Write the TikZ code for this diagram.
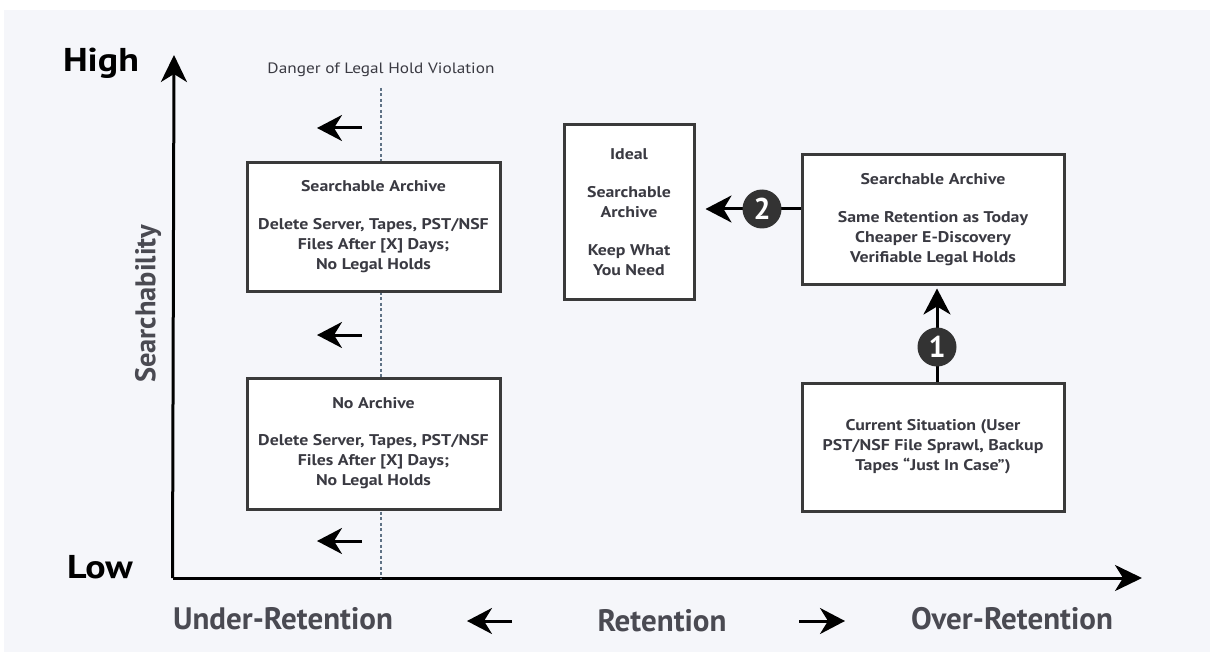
\documentclass[tikz,border=0pt]{standalone}
\usepackage{fontspec}
\setmainfont{PT Sans}
\newfontfamily\widefont[FakeStretch=1.15]{PT Sans}
\usetikzlibrary{arrows.meta}
\definecolor{bg}{HTML}{F5F6FA}
\definecolor{txt}{HTML}{3A3A42}
\definecolor{lab}{HTML}{4A4A52}
\definecolor{boxline}{HTML}{3A3A3A}
\definecolor{dotc}{HTML}{5F7285}
\definecolor{circ}{HTML}{333333}
\tikzset{
  box/.style={draw=boxline, line width=3pt, fill=white, align=center, inner sep=0pt,
    text=txt, font=\widefont\bfseries\fontsize{15.5}{20}\selectfont},
  axis/.style={line width=3pt, -{Stealth[length=27pt,width=26pt,inset=8pt]}},
  arr/.style={line width=3pt, -{Stealth[length=26pt,width=27pt,inset=8pt]}},
  flow/.style={line width=3pt, -{Stealth[length=25pt,width=26pt,inset=8pt]}},
  num/.style={circle, fill=circ, minimum size=39pt, inner sep=0pt, text=white,
    font=\bfseries\fontsize{30}{30}\selectfont},
  dotline/.style={draw=dotc, line width=2.4pt, dash pattern=on 3pt off 2.5pt},
  hilo/.style={font=\widefont\bfseries\fontsize{33}{33}\selectfont, text=black},
  axlab/.style={font=\bfseries\fontsize{31}{31}\selectfont, text=lab},
}
\begin{document}
\begin{tikzpicture}[x=1pt,y=-1pt]
\useasboundingbox (0,0) rectangle (1210,655);
\fill[bg] (4,10) rectangle (1210,652);

% axes
\coordinate (O) at (174,578);
\coordinate (Ytip) at (174,55);
\coordinate (Xtip) at (1142,578);
\draw[axis] ([xshift=-1.5pt]O) -- (Ytip);
\draw[axis] ([xshift=-1.5pt]O) -- (Xtip);

\node[hilo] (high) at (101,63) {High};
\node[hilo] (low) at (100,567) {Low};
\node[axlab, font=\bfseries\fontsize{28.5}{28.5}\selectfont, rotate=90] (search) at (148,304) {Searchability};

% danger line
\coordinate (dtop) at (381,88);
\draw[dotline] (dtop) -- (dtop |- O);
\node[font=\widefont\fontsize{15}{15}\selectfont, text=txt] (danger) at (381,70) {Danger of Legal Hold Violation};

% boxes
\node[box, minimum width=253pt, minimum height=128pt] (sal) at (373.5,227)
  {Searchable Archive\\[18pt]Delete Server, Tapes, PST/NSF\\Files After [X] Days;\\No Legal Holds};
\node[box, minimum width=253pt, minimum height=131pt] (noa) at (373.5,443.5)
  {No Archive\\[17pt]Delete Server, Tapes, PST/NSF\\Files After [X] Days;\\No Legal Holds};
\node[box, minimum width=130pt, minimum height=174pt] (ideal) at (629,212)
  {Ideal\\[18pt]Searchable\\Archive\\[18pt]Keep What\\You Need};
\node[box, minimum width=262pt, minimum height=129pt] (sar) at (933,219.5)
  {Searchable Archive\\[18pt]Same Retention as Today\\Cheaper E-Discovery\\Verifiable Legal Holds};
\node[box, minimum width=262pt, minimum height=128pt] (cur) at (933,447)
  {Current Situation (User\\PST/NSF File Sprawl, Backup\\Tapes “Just In Case”)};

% step 2
\coordinate (p2) at (762,209);
\draw[arr, shorten >=10pt] (sar.west |- p2) -- (ideal.east |- p2);
\node[num] (c2) at (p2) {2};

% step 1
\coordinate (p1) at (937,347);
\draw[arr, shorten >=3pt] (cur.north -| p1) -- (sar.south -| p1);
\node[num] (c1) at (p1) {1};

% left arrows
\coordinate (a1s) at (362,128); \coordinate (a1t) at (317,128);
\coordinate (a2s) at (362,335); \coordinate (a2t) at (317,335);
\coordinate (a3s) at (362,541); \coordinate (a3t) at (317,541);
\draw[flow] (a1s) -- (a1t);
\draw[flow] (a2s) -- (a2t);
\draw[flow] (a3s) -- (a3t);

% bottom labels
\node[axlab] (under) at (283,619) {Under-Retention};
\node[axlab] (ret) at (662,621) {Retention};
\node[axlab] (over) at (1012,619) {Over-Retention};
\coordinate (bls) at (512,621); \coordinate (blt) at (467,621);
\coordinate (brs) at (799,621); \coordinate (brt) at (845,621);
\draw[flow] (bls) -- (blt);
\draw[flow] (brs) -- (brt);
\end{tikzpicture}
\end{document}
